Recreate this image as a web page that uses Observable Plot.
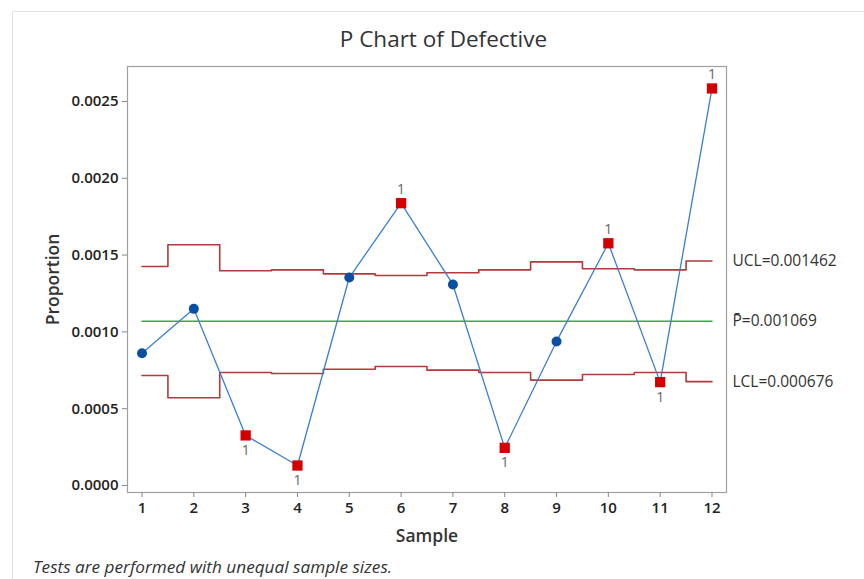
<!DOCTYPE html>
<html>
<head>
<meta charset="utf-8">
<script src="https://cdn.jsdelivr.net/npm/d3@7"></script>
<script src="https://cdn.jsdelivr.net/npm/@observablehq/plot@0.6"></script>
<style>
  html, body { margin: 0; padding: 0; background: #fff; }
  #wrap { position: relative; width: 864px; height: 579px; overflow: hidden; font-family: "Open Sans", "Noto Sans", sans-serif; }
  #panel { position: absolute; left: 12px; top: 11px; right: -2px; bottom: -2px; border-left: 1.5px solid #e2e2e2; border-top: 1.5px solid #e2e2e2; pointer-events: none; }
  #title { box-sizing: border-box; height: 56px; padding-top: 27.5px; padding-left: 23px; text-align: center; font-size: 22.5px; line-height: 22.5px; color: #333; font-weight: 500; white-space: nowrap; }
  #chart svg { display: block; }
  #chart svg g[aria-label="y-axis tick label"], #chart svg g[aria-label="x-axis tick label"] { font-size: 15px; font-weight: 600; }
  #caption { box-sizing: border-box; height: 23px; line-height: 22px; padding-left: 33px; font-size: 17.2px; font-style: italic; color: #333; white-space: nowrap; }
</style>
</head>
<body>
<div id="wrap">
  <div id="panel"></div>
  <div id="title">P Chart of Defective</div>
  <div id="chart"></div>
  <div id="caption">Tests are performed with unequal sample sizes.</div>
</div>
<script>
// ---- data ----
const samples = [1, 2, 3, 4, 5, 6, 7, 8, 9, 10, 11, 12];
const proportion = [0.000861, 0.001150, 0.000326, 0.000130, 0.001354, 0.001838, 0.001309, 0.000245, 0.000938, 0.001577, 0.000673, 0.002585];
const ucl = [0.001426, 0.001567, 0.001398, 0.001404, 0.001378, 0.001367, 0.001385, 0.001404, 0.001456, 0.001411, 0.001404, 0.001462];
const lcl = [0.000716, 0.000571, 0.000736, 0.000729, 0.000757, 0.000775, 0.000751, 0.000736, 0.000686, 0.000723, 0.000736, 0.000676];
const centerP = 0.001069;
const yTicks = [0, 0.0005, 0.0010, 0.0015, 0.0020, 0.0025];
const limitLabels = ["UCL=0.001462", "P\u0304=0.001069", "LCL=0.000676"];
const limitValues = [0.001462, 0.001069, 0.000676];

// ---- tables built from the arrays ----
const rows = samples.map((s, i) => ({
  sample: s, p: proportion[i], ucl: ucl[i], lcl: lcl[i], center: centerP,
  flag: proportion[i] > ucl[i] ? "high" : proportion[i] < lcl[i] ? "low" : null
}));
const inControl = rows.filter(d => !d.flag);
const flagged = rows.filter(d => d.flag);
const labels = limitLabels.map((t, i) => ({text: t, y: limitValues[i]}));

const limitColor = "#b23a3a";
const chart = Plot.plot({
  width: 864,
  height: 500,
  marginLeft: 127,
  marginRight: 138,
  marginTop: 10,
  marginBottom: 64,
  style: {fontFamily: "'Open Sans', 'Noto Sans', sans-serif", fontSize: "14px", color: "#222", background: "transparent"},
  x: {domain: [0.72, 12.28]},
  y: {domain: [-0.0000456, 0.0027279]},
  marks: [
    Plot.frame({stroke: "#a0a0a0", strokeWidth: 1.2}),
    Plot.axisY({ticks: yTicks, tickFormat: d3.format(".4f"), tickSize: 5, tickPadding: 4, label: null,
      stroke: "#888", fill: "#222", fontSize: 15, fontWeight: 600}),
    Plot.axisX({ticks: samples, tickFormat: d3.format("d"), tickSize: 5, tickPadding: 5, label: null,
      stroke: "#888", fill: "#222", fontSize: 15, fontWeight: 600}),
    Plot.text(["Proportion"], {frameAnchor: "left", textAnchor: "middle", lineAnchor: "middle", dx: -74, rotate: -90, fontSize: 17.5, fontWeight: 600, fill: "#333"}),
    Plot.text(["Sample"], {frameAnchor: "bottom", textAnchor: "middle", lineAnchor: "middle", dy: 44, fontSize: 17.5, fontWeight: 600, fill: "#333"}),
    Plot.line(rows, {x: "sample", y: "ucl", curve: "step", stroke: limitColor, strokeWidth: 1.6}),
    Plot.line(rows, {x: "sample", y: "lcl", curve: "step", stroke: limitColor, strokeWidth: 1.6}),
    Plot.line(rows, {x: "sample", y: "center", stroke: "#3aa845", strokeWidth: 1.6}),
    Plot.line(rows, {x: "sample", y: "p", stroke: "#3a7fcf", strokeWidth: 1.3}),
    Plot.dot(inControl, {x: "sample", y: "p", r: 5, fill: "#0b4fa3", stroke: "none"}),
    Plot.dot(flagged, {x: "sample", y: "p", symbol: "square", r: 5.8, fill: "#d40000", stroke: "none"}),
    Plot.text(flagged.filter(d => d.flag === "high"), {x: "sample", y: "p", text: () => "1", dy: -14, fill: "#666", fontSize: 14}),
    Plot.text(flagged.filter(d => d.flag === "low"), {x: "sample", y: "p", text: () => "1", dy: 15, fill: "#666", fontSize: 14}),
    Plot.text(labels, {frameAnchor: "right", y: "y", text: "text", dx: 6, textAnchor: "start", lineAnchor: "middle", fontSize: 15.5, fill: "#333"})
  ]
});
document.getElementById("chart").appendChild(chart);
</script>
</body>
</html>
